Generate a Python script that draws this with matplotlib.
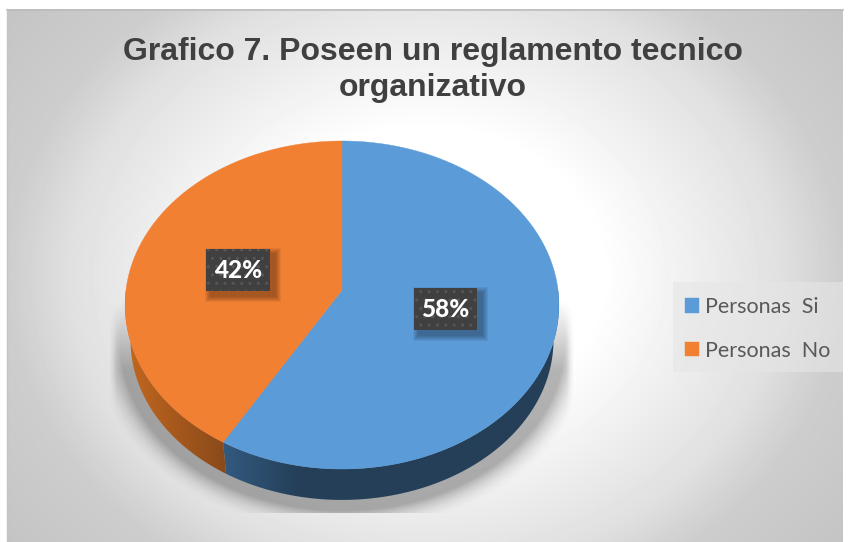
import numpy as np
import matplotlib
matplotlib.use('Agg')
import matplotlib.pyplot as plt
from matplotlib.patches import Polygon, Rectangle

#datos del grafico
title = 'Grafico 7. Poseen un reglamento tecnico\norganizativo'
labels = ['Personas  Si', 'Personas  No']
values = [58, 42]
colors = ['#5b9bd8', '#f28033']
side_left = ['#33597f', '#c0661f']
side_right = ['#243f57', '#8a4a1a']

W, H = 850, 542
cx, cy_apex, cy_mid = 342, 290, 305

fig = plt.figure(figsize=(8.5, 5.42), dpi=100, facecolor='white')
ax = fig.add_axes([0, 0, 1, 1])

#fondo radial
yy, xx = np.mgrid[9:542, 7:843]
r = np.sqrt(((xx-425)/418.0)**2 + ((yy-275)/346.0)**2)
bg = np.interp(r, [0, 0.42, 0.85, 1.0, 1.26], [255, 255, 224, 205, 196])
ax.imshow(bg, cmap='gray', vmin=0, vmax=255, extent=(7, 843, 542, 9), zorder=0)
ax.plot([7, 843], [9.5, 9.5], color='#bcbcbc', lw=1.2, zorder=1)
ax.plot([7.5, 7.5], [9, 542], color='#c4c4c4', lw=1, zorder=1)

#sombra debajo del pastel
yy, xx = np.mgrid[270:513, 100:585]
d = (np.sqrt(((xx-342)/222.0)**2 + ((yy-342)/168.0)**2) - 1) * 190
alpha = 0.3*np.clip(1-d/26, 0, 1)**2 * np.clip((yy-300)/70.0, 0, 1)
alpha = alpha * np.clip((xx-108)/8.0, 0, 1) * np.clip((574-xx)/8.0, 0, 1)
shadow = np.zeros(alpha.shape + (4,))
shadow[..., 3] = alpha
ax.imshow(shadow, extent=(100, 585, 513, 270), zorder=2)


def top_curve(theta):
    #circulo en perspectiva, con un poco de correccion del angulo
    theta = theta + 0.03*np.sin(theta/2)
    u, v = np.sin(theta), np.cos(theta)
    w = 1 + 0.0915*v
    return cx + 216*u/w, (-136.1*v + cy_apex)/w


def bottom_curve(theta):
    x, y = top_curve(theta)
    return cx + 0.975*(x-cx), 340 + 0.975*(y-cy_mid)


angles = np.cumsum([0] + values) / float(sum(values)) * 2*np.pi

for i in range(len(values)):
    th = np.linspace(angles[i], angles[i+1], 200)
    xt, yt = top_curve(th)
    xb, yb = bottom_curve(th)

    #lado del pastel con degradado
    band = Polygon(np.r_[np.c_[xb, yb], np.c_[xt, yt][::-1]], closed=True, transform=ax.transData)
    c0 = np.array(matplotlib.colors.to_rgb(side_left[i]))
    c1 = np.array(matplotlib.colors.to_rgb(side_right[i]))
    if i == 0:
        #azul: oscurece enseguida despues de la union
        t = np.clip((np.linspace(220, 565, 256)-225)/75.0, 0, 1)
        img = c0[None, :]*(1-t[:, None]) + c1[None, :]*t[:, None]
        im = ax.imshow(img[None, :, :], extent=(220, 565, 505, 290), aspect='auto', zorder=3)
    else:
        t = np.clip((np.linspace(120, 230, 256)-130)/95.0, 0, 1)
        img = c0[None, :]*(1-t[:, None]) + c1[None, :]*t[:, None]
        im = ax.imshow(img[None, :, :], extent=(120, 230, 480, 290), aspect='auto', zorder=3)
    band.set_facecolor('none')
    band.set_edgecolor('none')
    ax.add_patch(band)
    im.set_clip_path(band)

for i in range(len(values)):
    th = np.linspace(angles[i], angles[i+1], 200)
    xt, yt = top_curve(th)
    ax.add_patch(Polygon(np.r_[[[cx, cy_apex]], np.c_[xt, yt]], closed=True, facecolor=colors[i],
                         edgecolor=colors[i], lw=0.3, zorder=4, label=labels[i]))

ax.set_xlim(0, W)
ax.set_ylim(H, 0)
ax.set_aspect('auto')
ax.axis('off')

#etiquetas de datos
boxes = [(414, 288, 63, 42), (206, 249, 64, 42)]
for i, (x, y, w, h) in enumerate(boxes):
    for k in range(6):
        pad = 6-k
        ax.add_patch(Rectangle((x+5-pad, y+5-pad), w+2*pad, h+2*pad, facecolor='black', edgecolor='none',
                               alpha=0.06, zorder=5))
    ax.add_patch(Rectangle((x, y), w, h, facecolor='#404040', edgecolor='#565656', hatch='..', lw=0, zorder=6))
    ax.text(x+w/2.0, y+h/2.0+0.5, '%d%%' % values[i], color='white', fontsize=17.5, fontweight='black',
            family='Lato', ha='center', va='center', zorder=7)

ax.text(433, 70, title, color='#404040', fontsize=23, fontweight='bold', family='Liberation Sans',
        ha='center', va='center', linespacing=1.24, zorder=7)

#leyenda
ax.add_patch(Rectangle((673, 282), 170, 90, facecolor='#e6e6e6', edgecolor='none', alpha=0.6, zorder=5))
leg = ax.legend(loc='upper left', bbox_to_anchor=(673/850.0, 1-285/542.0), borderaxespad=0,
                prop={'family': 'Lato', 'size': 15.5}, labelcolor='#595959', frameon=False,
                handlelength=0.65, handleheight=0.65, handletextpad=0.28,
                labelspacing=1.1, borderpad=0.56)
leg.set_zorder(8)

fig.savefig('out.png', dpi=100, facecolor='white')
